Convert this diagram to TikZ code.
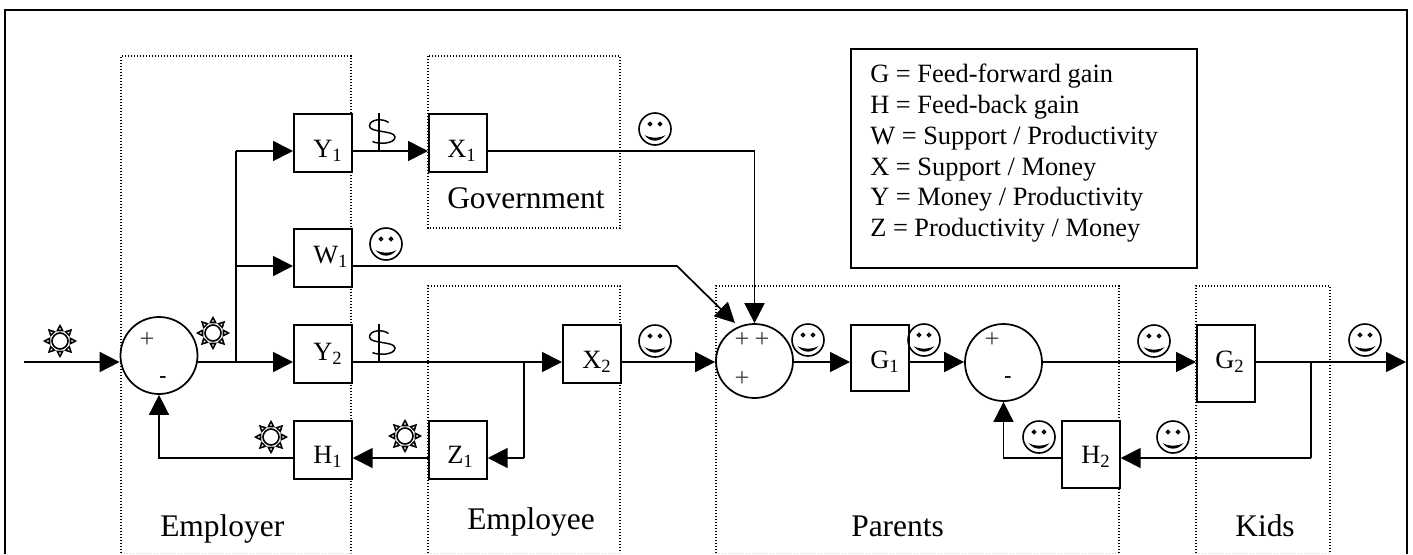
\documentclass[tikz,border=0pt]{standalone}
\usepackage{fontspec}
\setmainfont{Liberation Serif}
\usetikzlibrary{arrows.meta,shapes.geometric}
\newcommand{\lab}[2]{#1\raisebox{-3.2pt}{\fontsize{14}{14}\selectfont #2}}
\tikzset{
  wire/.style={line width=1.3pt},
  arr/.style={wire,-{Triangle[length=15pt,width=15pt]}},
  region/.style={line width=0.9pt,dash pattern=on 1.1pt off 1.15pt},
  regionend/.style={line width=0.6pt,dash pattern=on 1.1pt off 1.15pt,black!18},
  blk/.style={draw,line width=1.3pt,fill=white,inner sep=0pt,anchor=north west,minimum width=43.5pt},
  sumj/.style={draw,ellipse,line width=1.3pt,fill=white,inner sep=0pt,anchor=center},
  blabel/.style={anchor=base west,inner sep=0pt,font=\fontsize{19.8}{22}\selectfont},
  region label/.style={anchor=base west,inner sep=0pt,font=\fontsize{23.6}{26}\selectfont},
  legtext/.style={anchor=base west,inner sep=0pt,font=\fontsize{19.8}{22}\selectfont},
  signmark/.style={inner sep=0pt,font=\fontsize{19.8}{22}\selectfont,text=black!75},
  minusmark/.style={inner sep=0pt,font=\fontsize{16}{18}\selectfont\bfseries},
  sunicon/.pic={
    \draw[line width=1.2pt] (0,0) circle (8);
    \foreach \a in {0,45,...,315}{
      \draw[line width=1.15pt,line join=miter,rotate=\a] (10.5,-2.6) -- (15.5,0) -- (10.5,2.6) -- cycle;
    }
  },
  smileicon/.pic={
    \draw[line width=1.2pt] (0,0) circle (16);
    \draw[line width=1pt] (-5,-5) circle (1.6) (5,-5) circle (1.6);
    \fill (-10.5,6) .. controls (-5,9.5) and (5,9.5) .. (10.5,6)
          .. controls (5,13.5) and (-5,13.5) .. (-10.5,6) -- cycle;
  },
  dollaricon/.pic={
    \draw[line width=1pt] (0,-38) -- (0,0);
    \draw[line width=1.1pt] (9.5,-28.5) .. controls (4,-33) and (-9.5,-32) .. (-9.5,-25)
       .. controls (-9.5,-18) and (15.5,-21) .. (16,-14)
       .. controls (16,-7) and (-1,-6.5) .. (-6.5,-9.5);
  }
}
\begin{document}
\begin{tikzpicture}[x=0.75pt,y=-0.75pt,>={Triangle[length=15pt,width=15pt]}]
\useasboundingbox (0,0) rectangle (1413,554);
% outer frame
\draw[line width=1.4pt] (5,554) -- (5,10) -- (1407,10) -- (1407,554);
% regions
\draw[region] (121,553) -- (121,56) -- (351,56) -- (351,553);
\draw[regionend] (121,553) -- (351,553);
\draw[region] (428,56) rectangle (620,228);
\draw[region] (428,553) -- (428,286) -- (620,286) -- (620,553);
\draw[regionend] (428,553) -- (620,553);
\draw[region] (716,553) -- (716,286) -- (1119,286) -- (1119,553);
\draw[regionend] (716,553) -- (1119,553);
\draw[region] (1196,553) -- (1196,286) -- (1330,286) -- (1330,553);
\draw[regionend] (1196,553) -- (1330,553);
% helper coordinates
\coordinate (in) at (24,362);
\coordinate (busA) at (236,362);
\coordinate (rowY) at (236,151);
\coordinate (rowW) at (236,266);
\coordinate (busB) at (524,362);
\coordinate (rowZ) at (524,458);
\coordinate (bendW) at (677,266);
\coordinate (endW) at (735,323);
\coordinate (bendX) at (754.5,151);
\coordinate (out) at (1406,362);
\coordinate (busC) at (1311,362);
\coordinate (rowH) at (1311,458);
% blocks
\node[blk,minimum height=43.5pt] (Y1) at (293,113) {};
\node[blk,minimum height=43.5pt] (X1) at (428,113) {};
\node[blk,minimum height=43.5pt] (W1) at (293,228) {};
\node[blk,minimum height=43.5pt] (Y2) at (293,324) {};
\node[blk,minimum height=43.5pt] (H1) at (293,420) {};
\node[blk,minimum height=43.5pt] (Z1) at (428,420) {};
\node[blk,minimum height=43.5pt] (X2) at (562,324) {};
\node[blk,minimum height=49.5pt] (G1) at (850,324) {};
\node[blk,minimum height=57.75pt] (G2) at (1196,324) {};
\node[blk,minimum height=50.25pt] (H2) at (1061,420) {};
% summing junctions
\node[sumj,minimum width=57.75pt,minimum height=57.75pt] (S1) at (159,355.5) {};
\node[sumj,minimum width=57.75pt,minimum height=55.5pt] (S2) at (754.5,361) {};
\node[sumj,minimum width=57.75pt,minimum height=57.75pt] (S3) at (1003.5,362.5) {};
% connectors
\draw[arr] (in) -- (S1.west |- in);
\draw[arr] (S1.east |- in) -- (Y2.west |- in);
\draw[wire] (busA) -- (rowY);
\draw[arr] (rowY) -- (Y1.west |- rowY);
\draw[arr] (rowW) -- (W1.west |- rowW);
\draw[arr] (Y1.east |- rowY) -- (X1.west |- rowY);
\draw[arr] (X1.east |- rowY) -- (bendX) -- (S2.north);
\draw[arr] (W1.east |- rowW) -- (bendW) -- (endW);
\draw[arr] (Y2.east |- in) -- (X2.west |- in);
\draw[wire] (busB) -- (rowZ);
\draw[arr] (rowZ) -- (Z1.east |- rowZ);
\draw[arr] (Z1.west |- rowZ) -- (H1.east |- rowZ);
\draw[arr] (H1.west |- rowZ) -- (S1.south |- rowZ) -- (S1.south);
\draw[arr] (X2.east |- in) -- (S2.west |- in);
\draw[arr] (S2.east |- in) -- (G1.west |- in);
\draw[arr] (G1.east |- in) -- (S3.west |- in);
\draw[arr] (S3.east |- in) -- (G2.west |- in);
\draw[arr] (G2.east |- in) -- (out);
\draw[wire] (busC) -- (rowH);
\draw[arr] (rowH) -- (H2.east |- rowH);
\draw[arr] (H2.west |- rowH) -- (S3.south |- rowH) -- (S3.south);
% block labels
\node[blabel] (tY1) at (313,157) {\lab{Y}{1}};
\node[blabel] (tX1) at (447,157) {\lab{X}{1}};
\node[blabel] (tW1) at (313,263) {\lab{W}{1}};
\node[blabel] (tY2) at (313,360) {\lab{Y}{2}};
\node[blabel] (tH1) at (313,463) {\lab{H}{1}};
\node[blabel] (tZ1) at (447,463) {\lab{Z}{1}};
\node[blabel] (tX2) at (582,368) {\lab{X}{2}};
\node[blabel] (tG1) at (870,368) {\lab{G}{1}};
\node[blabel] (tG2) at (1215,368) {\lab{G}{2}};
\node[blabel] (tH2) at (1081,463) {\lab{H}{2}};
% signs
\node[signmark] (p1) at (147,340) {+};
\node[minusmark] (m1) at (163,380) {-};
\node[signmark] (p2) at (742,340) {+};
\node[signmark] (p3) at (762,340) {+};
\node[signmark] (p4) at (742,379) {+};
\node[signmark] (p5) at (992,340) {+};
\node[minusmark] (m2) at (1008,380) {-};
% region labels
\node[region label] (lEr) at (160,536) {Employer};
\node[region label] (lEe) at (467,529) {Employee};
\node[region label] (lGv) at (447,208) {Government};
\node[region label] (lPa) at (851,536) {Parents};
\node[region label] (lKi) at (1235,536) {Kids};
% legend
\node[draw,line width=1.3pt,inner sep=0pt,anchor=north west,minimum width=259.5pt,minimum height=164.25pt] (legend) at (850,48) {};
\node[legtext] (g1) at (870,82.7) {G = Feed-forward gain};
\node[legtext] (g2) at (870,113.3) {H = Feed-back gain};
\node[legtext] (g3) at (870,144) {W = Support / Productivity};
\node[legtext] (g4) at (870,175) {X = Support / Money};
\node[legtext] (g5) at (870,205) {Y = Money / Productivity};
\node[legtext] (g6) at (870,236.7) {Z = Productivity / Money};
% icons
\pic at (60,341) {sunicon};
\pic at (213,333) {sunicon};
\pic at (271,437) {sunicon};
\pic at (405,436) {sunicon};
\pic at (386,244) {smileicon};
\pic at (655,129) {smileicon};
\pic at (655,341) {smileicon};
\pic at (808,340) {smileicon};
\pic at (924,340) {smileicon};
\pic at (1154,341) {smileicon};
\pic at (1365,340) {smileicon};
\pic at (1039,437) {smileicon};
\pic at (1173,437) {smileicon};
\pic at (379,151) {dollaricon};
\pic at (379,362) {dollaricon};
\end{tikzpicture}
\end{document}
